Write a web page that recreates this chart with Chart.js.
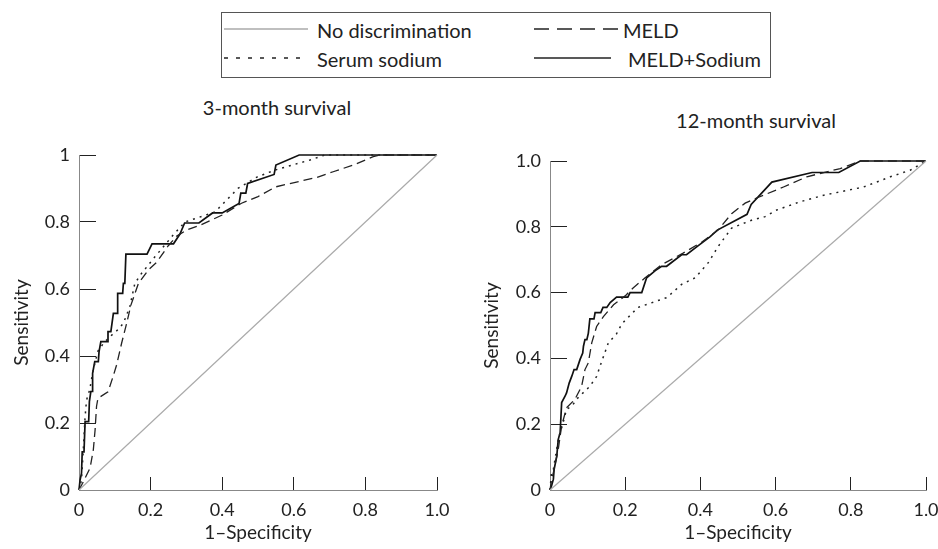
<!DOCTYPE html>
<html>
<head>
<meta charset="utf-8">
<script src="https://cdn.jsdelivr.net/npm/chart.js@4.4.0/dist/chart.umd.min.js"></script>
<style>
  body { margin: 0; background: #fff; width: 938px; height: 549px; position: relative; overflow: hidden;
         font-family: Lato, "Noto Sans", sans-serif; color: #222; }
  #legend { position: absolute; left: 221px; top: 12px; width: 548px; height: 64px; border: 1px solid #555; }
  #legend svg { position: absolute; left: 0; top: 0; }
  .lt { position: absolute; font-size: 20px; line-height: 20px; white-space: nowrap; }
  .title { position: absolute; font-size: 20px; line-height: 20px; white-space: nowrap; transform: translate(-50%, -50%); }
  canvas { position: absolute; top: 140px; }
</style>
</head>
<body>

<div id="legend">
  <svg width="548" height="64">
    <line x1="2" y1="16" x2="86" y2="16" stroke="#aaa" stroke-width="1.3"/>
    <line x1="312" y1="16" x2="396" y2="16" stroke="#222" stroke-width="1.5" stroke-dasharray="15,8"/>
    <line x1="2" y1="45" x2="84" y2="45" stroke="#222" stroke-width="1.5" stroke-dasharray="4,8"/>
    <line x1="312" y1="45" x2="389" y2="45" stroke="#222" stroke-width="1.7"/>
  </svg>
  <div class="lt" style="left:95px; top:7px;">No discrimination</div>
  <div class="lt" style="left:401px; top:7px;">MELD</div>
  <div class="lt" style="left:95px; top:36px;">Serum sodium</div>
  <div class="lt" style="left:406px; top:36px;">MELD+Sodium</div>
</div>

<div class="title" style="left:277px; top:107px;">3-month survival</div>
<div class="title" style="left:756px; top:120px;">12-month survival</div>

<canvas id="chart3" width="470" height="409" style="left:0px;"></canvas>
<canvas id="chart12" width="468" height="409" style="left:470px;"></canvas>

<script>
// tick labels
const xTickLabels = ['0', '0.2', '0.4', '0.6', '0.8', '1.0'];
const yTickLabels3 = ['0', '0.2', '0.4', '0.6', '0.8', '1'];
const yTickLabels12 = ['0', '0.2', '0.4', '0.6', '0.8', '1.0'];

const seriesNames = ['No discrimination', 'MELD', 'Serum sodium', 'MELD+Sodium'];

// reference line
const diagonal = [[0, 0], [1, 1]];

// 3-month survival: [1-specificity, sensitivity]
const meld3 = [[0,0],[0.01,0.02],[0.031,0.066],[0.04,0.12],[0.045,0.18],[0.049,0.25],[0.053,0.274],[0.081,0.293],
  [0.095,0.338],[0.105,0.373],[0.119,0.438],[0.133,0.497],[0.145,0.552],[0.166,0.617],[0.194,0.657],[0.217,0.68],
  [0.25,0.73],[0.273,0.758],[0.301,0.776],[0.34,0.791],[0.4,0.821],[0.454,0.856],[0.5,0.876],[0.55,0.905],
  [0.664,0.933],[0.71,0.95],[0.766,0.97],[0.822,0.995],[0.84,1],[1,1]];

const sodium3 = [[0,0],[0.007,0.03],[0.012,0.12],[0.017,0.218],[0.021,0.268],[0.03,0.3],[0.039,0.355],[0.053,0.415],
  [0.07,0.44],[0.087,0.458],[0.11,0.48],[0.124,0.498],[0.142,0.547],[0.156,0.617],[0.175,0.647],[0.212,0.696],
  [0.263,0.761],[0.296,0.8],[0.38,0.83],[0.445,0.901],[0.497,0.934],[0.547,0.955],[0.645,0.985],[0.687,1],[1,1]];

const meldSodium3 = [[0,0],[0.003,0.03],[0.007,0.05],[0.009,0.114],[0.014,0.114],[0.017,0.204],[0.027,0.204],
  [0.029,0.264],[0.033,0.294],[0.037,0.294],[0.038,0.348],[0.044,0.383],[0.054,0.383],[0.056,0.413],[0.061,0.443],
  [0.079,0.443],[0.081,0.473],[0.089,0.473],[0.096,0.527],[0.107,0.527],[0.108,0.587],[0.122,0.587],[0.124,0.617],
  [0.128,0.617],[0.131,0.704],[0.19,0.704],[0.204,0.735],[0.264,0.735],[0.282,0.764],[0.295,0.797],[0.335,0.797],
  [0.373,0.827],[0.4,0.827],[0.447,0.855],[0.452,0.886],[0.466,0.886],[0.471,0.915],[0.545,0.942],[0.55,0.97],
  [0.615,1],[1,1]];

// 12-month survival
const meld12 = [[0,0],[0.004,0.03],[0.009,0.053],[0.022,0.124],[0.031,0.195],[0.044,0.25],[0.066,0.275],[0.084,0.315],
  [0.093,0.366],[0.102,0.387],[0.111,0.447],[0.124,0.497],[0.142,0.527],[0.169,0.563],[0.2,0.59],[0.221,0.614],
  [0.253,0.645],[0.297,0.685],[0.354,0.72],[0.403,0.753],[0.447,0.79],[0.483,0.84],[0.519,0.872],[0.553,0.889],
  [0.621,0.921],[0.683,0.952],[0.736,0.967],[0.772,0.977],[0.825,1],[1,1]];

const sodium12 = [[0,0],[0.004,0.053],[0.009,0.063],[0.022,0.154],[0.035,0.205],[0.044,0.245],[0.058,0.255],
  [0.075,0.281],[0.106,0.315],[0.124,0.345],[0.133,0.376],[0.155,0.447],[0.177,0.475],[0.191,0.505],[0.234,0.555],
  [0.311,0.585],[0.35,0.625],[0.386,0.645],[0.421,0.691],[0.447,0.74],[0.483,0.796],[0.536,0.82],[0.572,0.831],
  [0.603,0.851],[0.665,0.876],[0.728,0.896],[0.834,0.921],[0.905,0.952],[0.958,0.972],[1,1]];

const meldSodium12 = [[0,0],[0.004,0.012],[0.009,0.033],[0.011,0.063],[0.018,0.103],[0.022,0.154],[0.027,0.175],
  [0.031,0.266],[0.04,0.285],[0.044,0.295],[0.051,0.325],[0.058,0.346],[0.064,0.366],[0.071,0.366],[0.08,0.397],
  [0.087,0.416],[0.089,0.437],[0.093,0.457],[0.098,0.457],[0.102,0.477],[0.106,0.52],[0.117,0.52],[0.12,0.539],
  [0.135,0.539],[0.141,0.555],[0.151,0.555],[0.16,0.57],[0.177,0.586],[0.207,0.586],[0.213,0.6],[0.244,0.6],
  [0.257,0.645],[0.28,0.667],[0.297,0.68],[0.31,0.68],[0.35,0.715],[0.363,0.715],[0.39,0.739],[0.426,0.77],
  [0.445,0.79],[0.524,0.838],[0.535,0.868],[0.59,0.936],[0.697,0.965],[0.768,0.965],[0.825,1],[1,1]];

function toXY(pairs) {
  return pairs.map(p => ({x: p[0], y: p[1]}));
}

function makeDatasets(meld, sodium, meldSodium) {
  let common = {pointRadius: 0, tension: 0, fill: false, clip: 6};
  return [
    Object.assign({label: seriesNames[0], data: toXY(diagonal), borderColor: '#aaa', borderWidth: 1.2}, common),
    Object.assign({label: seriesNames[1], data: toXY(meld), borderColor: '#222', borderWidth: 1.3, borderDash: [9, 5]}, common),
    Object.assign({label: seriesNames[2], data: toXY(sodium), borderColor: '#222', borderWidth: 1.5, borderDash: [2, 5]}, common),
    Object.assign({label: seriesNames[3], data: toXY(meldSodium), borderColor: '#111', borderWidth: 1.7}, common)
  ];
}

function makeChart(id, datasets, yLabels, yWidth, pad) {
  const fontFamily = 'Lato, "Noto Sans", sans-serif';
  return new Chart(document.getElementById(id), {
    type: 'line',
    data: {datasets: datasets},
    options: {
      responsive: false,
      animation: false,
      layout: {padding: pad},
      plugins: {legend: {display: false}, tooltip: {enabled: false}},
      scales: {
        x: {
          type: 'linear', min: 0, max: 1,
          ticks: {stepSize: 0.2, autoSkip: false, maxRotation: 0, padding: 22, color: '#222',
                  font: {family: fontFamily, size: 18}, callback: (v, i) => xTickLabels[i]},
          grid: {drawOnChartArea: false, tickLength: -13, color: '#222', lineWidth: 1},
          border: {color: '#888', width: 1},
          title: {display: true, text: '1\u2013Specificity', color: '#222', padding: {top: 0, bottom: 5},
                  font: {family: fontFamily, size: 19}},
          afterFit: s => { s.height = 59; s.paddingLeft = 0; s.paddingRight = 0; }
        },
        y: {
          type: 'linear', min: 0, max: 1,
          ticks: {stepSize: 0.2, autoSkip: false, padding: 26, color: '#222',
                  font: {family: fontFamily, size: 18}, callback: (v, i) => yLabels[i]},
          grid: {drawOnChartArea: false, tickLength: -17, color: '#222', lineWidth: 1},
          border: {color: '#888', width: 1},
          title: {display: true, text: 'Sensitivity', color: '#222', padding: {top: 10, bottom: 0},
                  font: {family: fontFamily, size: 19}},
          afterFit: s => { s.width = yWidth; s.paddingTop = 0; s.paddingBottom = 0; }
        }
      }
    }
  });
}

makeChart('chart3', makeDatasets(meld3, sodium3, meldSodium3), yTickLabels3, 79,
  {left: 0, top: 15, right: 33, bottom: 0});
makeChart('chart12', makeDatasets(meld12, sodium12, meldSodium12), yTickLabels12, 80,
  {left: 0, top: 21, right: 12, bottom: 0});
</script>
</body>
</html>
